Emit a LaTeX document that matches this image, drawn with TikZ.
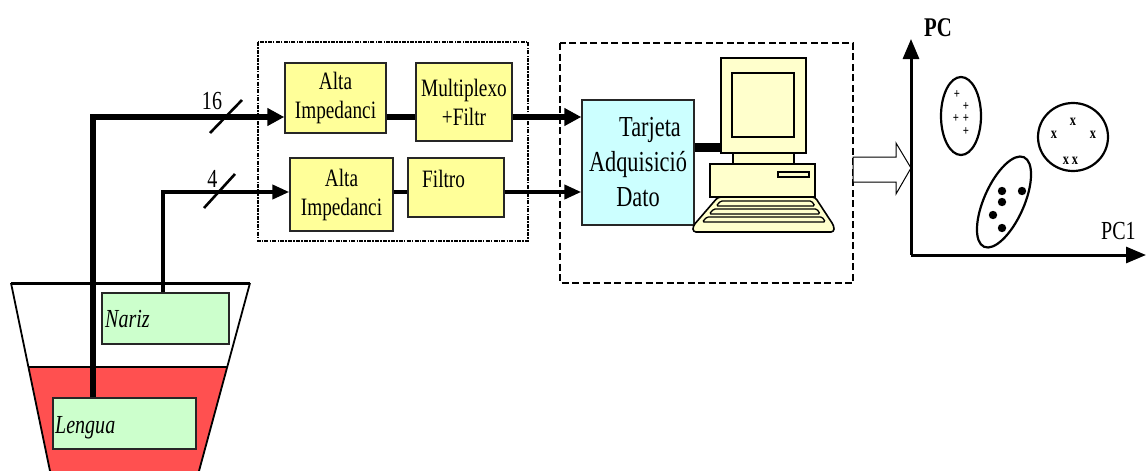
\documentclass[tikz,border=0pt]{standalone}
\usepackage{fontspec}
\setmainfont{Liberation Serif}[FakeStretch=0.77]
\usetikzlibrary{arrows.meta,calc}
\definecolor{boxyellow}{HTML}{FFFF99}
\definecolor{paleyellow}{HTML}{FFFFCC}
\definecolor{cardcyan}{HTML}{CCFFFF}
\definecolor{sensorgreen}{HTML}{CCFFCC}
\definecolor{liquidred}{HTML}{FF5050}

\begin{document}
\begin{tikzpicture}[x=1pt,y=-1pt,
  stage/.style={draw=black!85, line width=1.4pt, fill=boxyellow, inner sep=0pt,
    align=center, font=\fontsize{25}{29}\selectfont},
  sensor/.style={draw=black!85, line width=1.4pt, fill=sensorgreen, inner sep=0pt},
  sensorlabel/.style={anchor=base west, inner sep=0pt,
    font=\fontsize{26}{30}\selectfont\itshape},
  buslabel/.style={inner sep=0pt, font=\fontsize{26}{26}\selectfont},
  busthick/.style={line width=6pt},
  busthin/.style={line width=4pt},
  tipbig/.style={-{Triangle[length=17pt,width=17pt]}},
  tipsmall/.style={-{Triangle[length=17pt,width=14pt]}},
  pcpart/.style={draw=black, line width=1.6pt, fill=paleyellow},
  axis/.style={line width=3pt, -{Triangle[length=20pt,width=16pt]}},
  cluster/.style={line width=2.2pt},
  pt/.style={inner sep=0pt, font=\fontsize{14}{14}\selectfont\bfseries},
  ptx/.style={inner sep=0pt, font=\fontsize{16}{16}\selectfont\bfseries},
]
\useasboundingbox (0,0) rectangle (1146,471);

% ---- cup with the two sensors ----
\fill[liquidred] (28.4,367) -- (227.2,367) -- (199,471) -- (50,471) -- cycle;
\draw[line width=1.8pt] (11,283) -- (50,471);
\draw[line width=1.8pt] (250,283) -- (199,471);
\draw[line width=3pt] (11,283) -- (250,283);
\draw[line width=1.5pt] (28.4,367) -- (227.2,367);

\node[sensor, minimum width=127pt, minimum height=51pt] (nariz) at (165.5,318.5) {};
\node[sensorlabel] (narizT) at (105,327) {Nariz};
\node[sensor, minimum width=143pt, minimum height=51pt] (lengua) at (124.5,423.5) {};
\node[sensorlabel] (lenguaT) at (55,433) {Lengua};

% ---- analog front end ----
\draw[line width=1.8pt, dash pattern=on 4pt off 1.2pt on 1.5pt off 1.2pt]
  (258,42) rectangle (528,241);
\node[stage, minimum width=101pt, minimum height=70pt] (alta1) at (335.5,98) {Alta\\Impedanci};
\node[stage, minimum width=96pt, minimum height=78pt] (mux) at (464,102) {Multiplexo\\+Filtr};
\node[stage, minimum width=103pt, minimum height=73pt] (alta2) at (341.5,194.5) {Alta\\Impedanci};
\node[stage, minimum width=96pt, minimum height=59pt] (filt) at (456,187.5) {};
\node[anchor=base west, inner sep=0pt, font=\fontsize{25}{29}\selectfont] (filtT) at (422,187) {Filtro};

% ---- acquisition and computer ----
\draw[line width=2.2pt, dash pattern=on 7pt off 3.5pt] (560,43) rectangle (853,283);
\node[draw=black!85, line width=1.4pt, fill=cardcyan, inner sep=0pt, align=center,
  minimum width=112pt, minimum height=125pt, font=\fontsize{29}{35}\selectfont]
  (tarj) at (638,162.5) {\hspace*{24pt}Tarjeta\\Adquisició\\Dato};

\node[pcpart, minimum width=85pt, minimum height=95pt, inner sep=0pt] (mon) at (763.5,105.5) {};
\node[pcpart, minimum width=62pt, minimum height=64pt, inner sep=0pt] (screen) at (763,105) {};
\draw[pcpart] (733,153) rectangle (794,165);
\draw[pcpart] (710,164) rectangle (815,197);
\draw[pcpart, line width=1.3pt] (778,172) rectangle (809,177);
\draw[pcpart, rounded corners=3pt] (718,197) -- (815,197) -- (834,226) -- (834,232)
  -- (693,232) -- (693,226) -- cycle;
\draw[pcpart, line width=1.3pt, rounded corners=1.5pt]
  (720.6,201) -- (811.6,201) -- (814.9,206) -- (716.3,206) -- cycle;
\draw[pcpart, line width=1.3pt, rounded corners=1.5pt]
  (713.7,209) -- (816.9,209) -- (820.1,214) -- (709.3,214) -- cycle;
\draw[pcpart, line width=1.3pt, rounded corners=1.5pt]
  (706.8,217) -- (822.1,217) -- (825.4,222) -- (702.4,222) -- cycle;

% ---- signal paths ----
\coordinate (c16) at (93,117);
\coordinate (c4) at (163,192);
\coordinate (bar) at (700,147);
\draw[busthick, tipbig] (lengua.north -| c16) -- (c16) -- (c16 -| alta1.west);
\draw[busthin, tipsmall] (nariz.north -| c4) -- (c4) -- (c4 -| alta2.west);
\draw[busthick] (c16 -| alta1.east) -- (c16 -| mux.west);
\draw[busthin] (c4 -| alta2.east) -- (c4 -| filt.west);
\draw[busthick, tipbig] (c16 -| mux.east) -- (c16 -| tarj.west);
\draw[busthin, tipsmall] (c4 -| filt.east) -- (c4 -| tarj.west);
\draw[line width=9pt] (bar -| tarj.east) -- (bar -| mon.west);

% bus width marks
\coordinate (s16) at (226,116.5);
\coordinate (s4) at (219.5,191);
\draw[line width=2.6pt] ($(s16)+(-16,16.5)$) -- ($(s16)+(16,-16.5)$);
\draw[line width=2.6pt] ($(s4)+(-15.5,17)$) -- ($(s4)+(15.5,-17)$);
\node[buslabel] (n16) at (212,101) {16};
\node[buslabel] (n4) at (212.5,178.5) {4};

% ---- output: principal component plot ----
\draw[line width=1pt, fill=white] (853,157) -- (896,157) -- (896,143) -- (911,168)
  -- (896,194) -- (896,182) -- (853,182) -- cycle;
\coordinate (origin) at (911,255);
\draw[axis] (origin) -- (911,39);
\draw[axis] (origin) -- (1146,255);
\node[inner sep=0pt, anchor=base west, font=\fontsize{27}{27}\selectfont\bfseries] (pc2) at (924,36) {PC};
\node[inner sep=0pt, anchor=base west, font=\fontsize{26}{26}\selectfont] (pc1) at (1101,239) {PC1};

\draw[cluster] (961,116) ellipse [x radius=20, y radius=39];
\draw[cluster] (1073,137) ellipse [x radius=35, y radius=34];
\draw[cluster, rotate around={66:(1004,202)}] (1004,202) ellipse [x radius=49, y radius=20];

\node[pt] (p1) at (957,95) {+};
\node[pt] (p2) at (966,107) {+};
\node[pt] (p3) at (956,119) {+};
\node[pt] (p4) at (966,119) {+};
\node[pt] (p5) at (966,132) {+};

\node[ptx] (x1) at (1073,122) {x};
\node[ptx] (x2) at (1054,135) {x};
\node[ptx] (x3) at (1093,135) {x};
\node[ptx] (x4) at (1066,161) {x};
\node[ptx] (x5) at (1075,161) {x};

\foreach \p in {(1002,191),(1022,191),(1002,202),(993,215),(1002,228)}
  \fill \p circle (4.2);
\end{tikzpicture}
\end{document}
